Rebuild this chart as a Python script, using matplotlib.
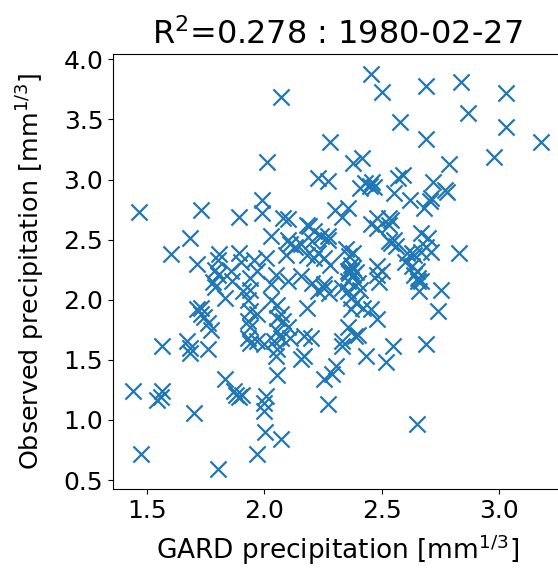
import matplotlib
matplotlib.use("Agg")
import matplotlib.pyplot as plt
import numpy as np

gard = [
    2.455, 2.50, 2.69, 2.84, 3.03, 2.07, 2.58, 2.87, 3.03, 2.28,
    2.69, 3.18, 2.98, 2.79, 2.01, 2.38, 2.415, 2.59, 2.57, 2.72,
    2.78, 2.77, 2.43, 2.45, 2.46, 2.47, 2.41, 2.23, 2.27, 2.555,
    2.62, 2.71, 2.705, 2.68, 2.30, 2.355, 2.33, 2.48, 2.53, 2.48,
    2.53, 2.455, 2.54, 2.67, 2.70, 2.54, 2.56, 2.555, 2.53, 2.83,
    2.27, 2.35, 2.38, 2.36, 2.63, 2.67, 2.64, 2.69, 2.71,
    1.466, 1.73, 1.89, 1.99, 1.99, 2.10, 2.08, 1.68, 1.60, 2.03,
    2.10, 2.11, 2.13, 2.19, 2.21, 2.18, 2.23, 1.71, 1.805, 1.80,
    1.89, 1.90, 1.955, 2.005, 1.79, 1.80, 1.78, 1.97, 1.94, 2.05,
    1.855, 1.86, 2.09, 2.03, 2.24, 2.27, 2.155, 2.205, 2.18, 2.21,
    2.255, 2.28, 2.37, 2.355, 2.38, 2.48, 2.48, 2.50, 2.61, 2.655,
    2.40, 2.355, 2.255, 2.205, 2.155, 2.10, 2.37, 2.36, 2.38, 2.39,
    2.49, 2.64, 2.67, 2.66, 2.755, 2.74, 2.60, 2.63, 2.48, 2.455,
    2.55, 2.52, 2.69, 2.434, 2.65, 2.27, 2.305, 2.29, 2.255, 2.385,
    2.355, 2.33, 2.33, 2.40, 2.155, 2.17, 2.07, 2.08, 2.10, 2.07,
    2.11, 2.17, 2.20, 2.18, 2.23, 2.255, 2.275, 2.33, 2.355, 2.37,
    2.39, 2.41, 2.37, 2.42,
    1.79, 1.83, 1.71, 1.73, 1.73, 1.74, 1.76, 1.77, 1.563, 1.67,
    1.684, 1.684, 1.76, 1.91, 1.94, 1.93, 2.03, 2.055, 1.94, 1.97,
    1.93, 1.94, 1.93, 1.94, 1.97, 2.00, 2.04, 2.055, 2.05, 2.055,
    2.055, 2.055, 1.83, 1.87, 1.88, 1.89, 1.905, 1.563, 1.556, 1.54,
    1.70, 2.005, 2.00, 2.00, 1.44, 1.474, 1.80, 2.003, 2.07, 1.97,
    2.655, 2.65,
]
observed = [
    3.88, 3.73, 3.78, 3.81, 3.72, 3.69, 3.48, 3.55, 3.44, 3.31,
    3.34, 3.31, 3.19, 3.13, 3.15, 3.14, 3.18, 3.04, 3.01, 2.98,
    2.90, 2.91, 2.97, 2.95, 2.98, 2.94, 2.93, 3.01, 2.99, 2.89,
    2.83, 2.845, 2.82, 2.76, 2.75, 2.76, 2.69, 2.68, 2.68, 2.60,
    2.62, 2.63, 2.66, 2.555, 2.51, 2.47, 2.45, 2.50, 2.49, 2.39,
    2.50, 2.42, 2.39, 2.36, 2.39, 2.40, 2.375, 2.44, 2.40,
    2.73, 2.75, 2.69, 2.83, 2.72, 2.67, 2.68, 2.51, 2.38, 2.53,
    2.50, 2.46, 2.44, 2.61, 2.57, 2.62, 2.39, 2.30, 2.38, 2.33,
    2.39, 2.31, 2.33, 2.35, 2.25, 2.21, 2.15, 2.24, 2.18, 2.21,
    2.24, 2.155, 2.375, 2.13, 2.53, 2.53, 2.46, 2.485, 2.375, 2.35,
    2.35, 2.29, 2.29, 2.24, 2.21, 2.28, 2.21, 2.24, 2.39, 2.155,
    2.14, 2.155, 2.13, 2.14, 2.195, 2.155, 2.24, 2.22, 2.26, 2.23,
    2.15, 2.21, 2.155, 2.07, 2.085, 1.905, 2.31, 2.28, 1.84, 1.92,
    1.615, 1.48, 1.63, 1.53, 0.965, 1.13, 1.45, 1.38, 1.34, 1.70,
    1.77, 1.66, 1.615, 1.71, 1.51, 1.53, 1.88, 1.82, 1.77, 1.68,
    1.68, 1.70, 1.68, 1.93, 2.07, 2.10, 2.06, 2.10, 2.07, 2.015,
    1.975, 2.085, 1.92, 1.93,
    2.11, 2.015, 1.92, 1.93, 1.88, 1.86, 1.81, 1.75, 1.615, 1.66,
    1.60, 1.56, 1.59, 2.07, 2.085, 2.00, 2.00, 1.96, 1.905, 1.88,
    1.82, 1.77, 1.68, 1.64, 1.66, 1.63, 1.66, 1.59, 1.53, 1.85,
    1.74, 1.37, 1.34, 1.24, 1.21, 1.19, 1.21, 1.24, 1.19, 1.17,
    1.06, 1.20, 1.145, 1.075, 1.24, 0.72, 0.59, 0.90, 0.84, 0.72,
    2.18, 2.24,
]

title = "R$^2$=0.278 : 1980-02-27"
xlabel = "GARD precipitation [mm$^{1/3}$]"
ylabel = "Observed precipitation [mm$^{1/3}$]"

plt.rcParams["font.size"] = 18
fig = plt.figure(figsize=(5.58, 5.82), dpi=100)
ax = fig.add_axes([0.2025, 0.1598, 0.803, 0.7474])
ax.scatter(gard, observed, marker="x", s=135, linewidths=1.6, color="#1f77b4")
ax.set_title(title, fontsize=23, pad=7)
ax.set_xlabel(xlabel, fontsize=19, labelpad=7)
ax.set_ylabel(ylabel, fontsize=18.3, labelpad=12)
ax.set_xticks([1.5, 2.0, 2.5, 3.0])
ax.set_yticks([0.5, 1.0, 1.5, 2.0, 2.5, 3.0, 3.5, 4.0])
fig.savefig("out.png", dpi=100)
